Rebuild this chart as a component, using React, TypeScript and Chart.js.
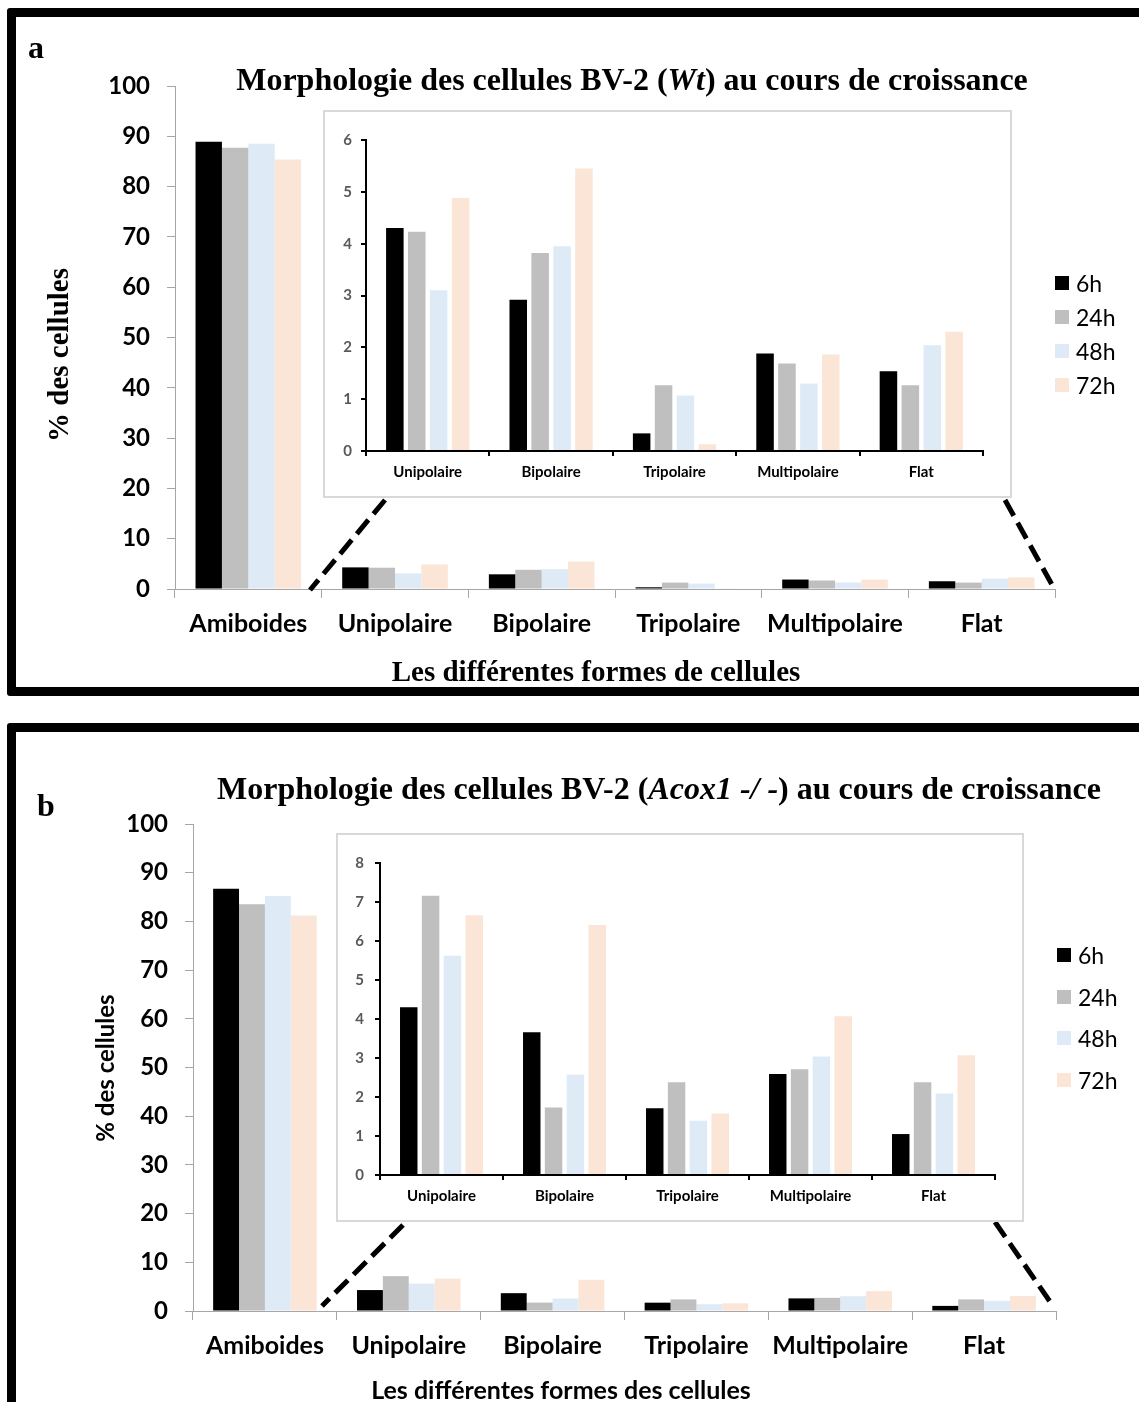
import React, { useEffect, useRef } from "react";
import { Chart, registerables } from "chart.js";

Chart.register(...registerables);

// ---------- DATA ----------
const seriesLabels = ["6h", "24h", "48h", "72h"];
const mainCategories = ["Amiboides", "Unipolaire", "Bipolaire", "Tripolaire", "Multipolaire", "Flat"];

// Panel a : BV-2 Wt (% of cells)
const wt6h = [88.9, 4.3, 2.92, 0.34, 1.88, 1.54];
const wt24h = [87.7, 4.23, 3.82, 1.27, 1.69, 1.27];
const wt48h = [88.5, 3.1, 3.95, 1.07, 1.3, 2.04];
const wt72h = [85.4, 4.88, 5.45, 0.13, 1.86, 2.3];

// Panel b : BV-2 Acox1 -/- (% of cells)
const acox6h = [86.7, 4.3, 3.66, 1.71, 2.59, 1.05];
const acox24h = [83.5, 7.16, 1.73, 2.38, 2.71, 2.38];
const acox48h = [85.2, 5.62, 2.57, 1.39, 3.04, 2.09];
const acox72h = [81.2, 6.66, 6.41, 1.58, 4.07, 3.07];

// ---------- STYLE ----------
const seriesColors = ["#000000", "#BFBFBF", "#DEEBF7", "#FBE5D6"];
const SANS = "Lato, 'Open Sans', sans-serif";
const SERIF = "'Liberation Serif', 'Times New Roman', serif";

type Box = { left: number; top: number; width: number; height: number };
type ChartProps = Box & {
  categories: string[];
  series: number[][];
  yMax: number;
  yStep: number;
  padTop: number;
  padRight: number;
  yWidth: number;
  xHeight: number;
  variant: "main" | "inset";
  yPad: number;
  xPad: number;
};

function buildConfig(p: ChartProps): any {
  const main = p.variant === "main";
  const axisColor = main ? "#A6A6A6" : "#000000";
  const axisWidth = main ? 1 : 2;
  return {
    type: "bar",
    data: {
      labels: p.categories,
      datasets: p.series.map((values, i) => ({
        label: seriesLabels[i],
        data: values,
        backgroundColor: seriesColors[i],
        borderWidth: 0,
        barPercentage: main ? 1 : 0.8,
        categoryPercentage: main ? 0.72 : 0.71,
      })),
    },
    options: {
      responsive: false,
      animation: false,
      layout: { padding: { top: p.padTop, right: p.padRight, left: 0, bottom: 0 } },
      plugins: {
        legend: { display: false },
        tooltip: { enabled: false },
        title: { display: false },
      },
      scales: {
        x: {
          grid: {
            display: true,
            drawOnChartArea: false,
            drawTicks: true,
            tickLength: main ? 9 : 5,
            color: axisColor,
            lineWidth: main ? 1 : 2,
            offset: true,
          },
          border: { display: true, color: axisColor, width: axisWidth },
          ticks: {
            color: "#000000",
            font: { family: SANS, weight: "bold", size: main ? 25 : 15 },
            padding: p.xPad,
            maxRotation: 0,
            minRotation: 0,
            autoSkip: false,
          },
          afterFit: (s: any) => {
            s.height = p.xHeight;
          },
        },
        y: {
          min: 0,
          max: p.yMax,
          grid: {
            display: true,
            drawOnChartArea: false,
            drawTicks: true,
            tickLength: main ? 8 : 5,
            color: axisColor,
            lineWidth: main ? 1 : 2,
          },
          border: { display: true, color: axisColor, width: axisWidth },
          ticks: {
            stepSize: p.yStep,
            color: main ? "#000000" : "#595959",
            font: { family: SANS, weight: "bold", size: main ? 24 : 15 },
            padding: p.yPad,
          },
          afterFit: (s: any) => {
            s.width = p.yWidth;
          },
        },
      },
    },
  };
}

function BarChart(p: ChartProps) {
  const ref = useRef<HTMLCanvasElement>(null);
  useEffect(() => {
    const chart = new Chart(ref.current as HTMLCanvasElement, buildConfig(p));
    return () => chart.destroy();
  }, []);
  return (
    <canvas
      ref={ref}
      width={p.width}
      height={p.height}
      style={{ position: "absolute", left: p.left, top: p.top, width: p.width, height: p.height }}
    />
  );
}

function Txt(props: { x: number; y: number; rotate?: boolean; style: React.CSSProperties; children: React.ReactNode }) {
  return (
    <div
      style={{
        position: "absolute",
        left: props.x,
        top: props.y,
        transform: `translate(-50%, -50%)${props.rotate ? " rotate(-90deg)" : ""}`,
        whiteSpace: "pre",
        lineHeight: 1,
        color: "#000",
        ...props.style,
      }}
    >
      {props.children}
    </div>
  );
}

function Legend(props: { x: number; y0: number; dy: number }) {
  return (
    <>
      {seriesLabels.map((lab, i) => (
        <div key={lab}>
          <div
            style={{
              position: "absolute",
              left: props.x,
              top: props.y0 + i * props.dy - 7,
              width: 14,
              height: 14,
              background: seriesColors[i],
            }}
          />
          <div
            style={{
              position: "absolute",
              left: props.x + 21,
              top: props.y0 + i * props.dy,
              transform: "translateY(-50%)",
              font: `400 23px ${SANS}`,
              lineHeight: 1,
              color: "#000",
              whiteSpace: "nowrap",
            }}
          >
            {lab}
          </div>
        </div>
      ))}
    </>
  );
}

function Frame(props: { top: number; height: number }) {
  return (
    <div
      style={{
        position: "absolute",
        left: 7,
        top: props.top,
        width: 1300,
        height: props.height,
        border: "9px solid #000",
        borderRadius: 3,
        boxSizing: "border-box",
      }}
    />
  );
}

function InsetBox(b: Box) {
  return (
    <div
      style={{
        position: "absolute",
        left: b.left,
        top: b.top,
        width: b.width,
        height: b.height,
        background: "#fff",
        border: "2px solid #D9D9D9",
        boxSizing: "border-box",
      }}
    />
  );
}

const insetCategories = mainCategories.slice(1);
const wtSeries = [wt6h, wt24h, wt48h, wt72h];
const acoxSeries = [acox6h, acox24h, acox48h, acox72h];

export default function App() {
  useEffect(() => {
    document.body.style.margin = "0";
    document.body.style.overflow = "hidden";
  }, []);

  const dash = { stroke: "#000", strokeWidth: 5, strokeDasharray: "18 8" };

  return (
    <div style={{ position: "relative", width: 1139, height: 1402, overflow: "hidden", background: "#fff" }}>
      <Frame top={8} height={688} />
      <Frame top={723} height={800} />

      {/* Panel a main chart */}
      <BarChart
        left={0}
        top={0}
        width={1139}
        height={700}
        categories={mainCategories}
        series={wtSeries}
        yMax={100}
        yStep={10}
        padTop={86}
        padRight={84}
        yWidth={175}
        xHeight={111}
        variant="main"
        yPad={17}
        xPad={11}
      />
      {/* Panel b main chart */}
      <BarChart
        left={0}
        top={700}
        width={1139}
        height={702}
        categories={mainCategories}
        series={acoxSeries}
        yMax={100}
        yStep={10}
        padTop={124}
        padRight={83}
        yWidth={193}
        xHeight={91}
        variant="main"
        yPad={17}
        xPad={11}
      />

      <svg width={1139} height={1402} style={{ position: "absolute", left: 0, top: 0 }}>
        <line x1={385} y1={500} x2={310} y2={590} {...dash} />
        <line x1={1005} y1={500} x2={1055} y2={590} {...dash} />
        <line x1={403} y1={1225} x2={322} y2={1306} {...dash} />
        <line x1={995} y1={1222} x2={1053} y2={1306} {...dash} />
      </svg>

      {/* Insets */}
      <InsetBox left={323} top={110} width={689} height={388} />
      <BarChart
        left={323}
        top={110}
        width={689}
        height={388}
        categories={insetCategories}
        series={wtSeries.map((s) => s.slice(1))}
        yMax={6}
        yStep={1}
        padTop={30}
        padRight={29}
        yWidth={43}
        xHeight={47}
        variant="inset"
        yPad={9}
        xPad={7}
      />
      <InsetBox left={336} top={833} width={688} height={389} />
      <BarChart
        left={336}
        top={833}
        width={688}
        height={389}
        categories={insetCategories}
        series={acoxSeries.map((s) => s.slice(1))}
        yMax={8}
        yStep={1}
        padTop={30}
        padRight={29}
        yWidth={44}
        xHeight={47}
        variant="inset"
        yPad={11}
        xPad={7}
      />

      {/* Texts panel a */}
      <Txt x={36} y={47} style={{ font: `700 32px ${SERIF}` }}>a</Txt>
      <Txt x={632} y={79} style={{ font: `700 32px ${SERIF}` }}>
        Morphologie des cellules BV-2 (<i>Wt</i>) au cours de croissance
      </Txt>
      <Txt x={596} y={671} style={{ font: `700 29px ${SERIF}` }}>Les différentes formes de cellules</Txt>
      <Txt x={58} y={355} rotate style={{ font: `700 29px ${SERIF}` }}>% des cellules</Txt>
      <Legend x={1055} y0={283} dy={34} />

      {/* Texts panel b */}
      <Txt x={46} y={805} style={{ font: `700 32px ${SERIF}` }}>b</Txt>
      <Txt x={659} y={788} style={{ font: `700 32px ${SERIF}` }}>
        Morphologie des cellules BV-2 (<i>Acox1 -/ -</i>) au cours de croissance
      </Txt>
      <Txt x={561} y={1389} style={{ font: `700 25px ${SANS}` }}>Les différentes formes des cellules</Txt>
      <Txt x={104} y={1068} rotate style={{ font: `700 24px ${SANS}` }}>% des cellules</Txt>
      <Legend x={1057} y0={955} dy={41.7} />
    </div>
  );
}
